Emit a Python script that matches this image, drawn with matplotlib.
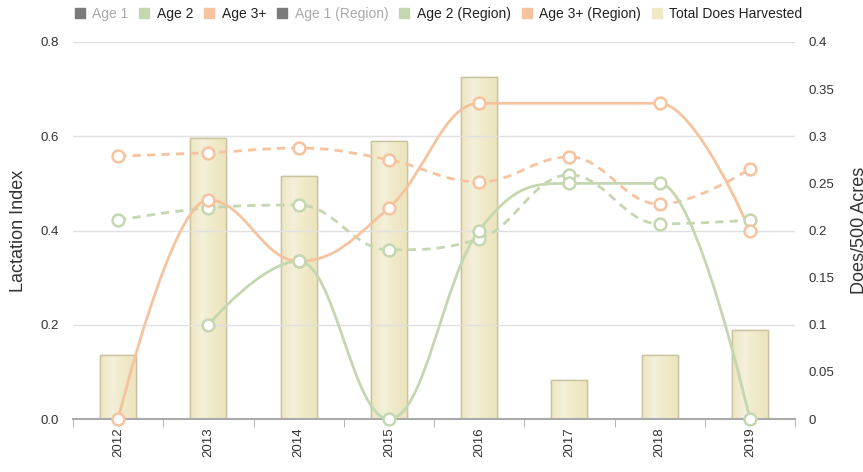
import numpy as np
import matplotlib
matplotlib.use('Agg')
import matplotlib.pyplot as plt
from matplotlib.path import Path
from matplotlib.patches import PathPatch
from matplotlib.lines import Line2D
from matplotlib.colors import LinearSegmentedColormap

plt.rcParams['font.family'] = ['Liberation Sans', 'DejaVu Sans']

years = ['2012', '2013', '2014', '2015', '2016', '2017', '2018', '2019']
does_harvested = [0.068, 0.298, 0.258, 0.295, 0.363, 0.041, 0.068, 0.094]
age2 = [None, 0.20, 0.335, 0.0, 0.40, 0.50, 0.50, 0.0]
age3 = [0.0, 0.465, 0.335, 0.448, 0.67, None, 0.67, 0.40]
age2_region = [0.422, 0.448, 0.454, 0.359, 0.382, 0.518, 0.414, 0.422]
age3_region = [0.558, 0.565, 0.575, 0.55, 0.503, 0.556, 0.456, 0.531]

GREEN = '#c4d7b0'
ORANGE = '#f5c39e'
BAR = '#efe9c6'
BAR_EDGE = '#c9c39f'


def spline_path(xs, ys, smoothing=1.5):
    # highcharts style spline through the points
    denom = smoothing + 1
    n = len(xs)
    right = [None] * n
    verts = [(xs[0], ys[0])]
    codes = [Path.MOVETO]
    for i in range(1, n):
        x, y = xs[i], ys[i]
        lx, ly = xs[i - 1], ys[i - 1]
        left_c = (x, y)
        if i < n - 1:
            nx, ny = xs[i + 1], ys[i + 1]
            lcx = (smoothing * x + lx) / denom
            lcy = (smoothing * y + ly) / denom
            rcx = (smoothing * x + nx) / denom
            rcy = (smoothing * y + ny) / denom
            corr = 0
            if rcx != lcx:
                corr = (rcy - lcy) * (rcx - x) / (rcx - lcx) + y - rcy
            lcy += corr
            rcy += corr
            if lcy > ly and lcy > y:
                lcy = max(ly, y)
                rcy = 2 * y - lcy
            elif lcy < ly and lcy < y:
                lcy = min(ly, y)
                rcy = 2 * y - lcy
            if rcy > ny and rcy > y:
                rcy = max(ny, y)
                lcy = 2 * y - rcy
            elif rcy < ny and rcy < y:
                rcy = min(ny, y)
                lcy = 2 * y - rcy
            left_c = (lcx, lcy)
            right[i] = (rcx, rcy)
        prev_c = right[i - 1] if right[i - 1] is not None else (lx, ly)
        verts += [prev_c, left_c, (x, y)]
        codes += [Path.CURVE4] * 3
    return Path(verts, codes)


def draw_series(ax, values, color, dashed):
    xs = [i for i, v in enumerate(values) if v is not None]
    ys = [v for v in values if v is not None]
    path = spline_path(xs, ys)
    ax.add_patch(PathPatch(path, fill=False, edgecolor=color, lw=2,
                           linestyle=(0, (3, 2.2)) if dashed else '-',
                           zorder=3, clip_on=False))
    ax.plot(xs, ys, 'o', ms=8.5, mfc='white', mec=color, mew=1.8,
            zorder=4, clip_on=False)


fig = plt.figure(figsize=(8.63, 4.72), dpi=100)
ax = fig.add_axes([73 / 863, 53 / 472, 722 / 863, 377 / 472])
ax2 = ax.twinx()

x = np.arange(len(years))
bars = ax2.bar(x, does_harvested, width=0.4, color=BAR, edgecolor=BAR_EDGE, lw=1, zorder=1)
grad = LinearSegmentedColormap.from_list('bar', ['#ede6c2', '#f4f0da', '#efe9c6', '#ebe4bd'])
for b in bars:
    bx, by = b.get_x(), b.get_y()
    im = ax2.imshow(np.linspace(0, 1, 64)[None, :], cmap=grad, aspect='auto',
                    extent=[bx, bx + b.get_width(), by, by + b.get_height()], zorder=1.1)
    im.set_clip_path(b)
    ax2.add_patch(plt.Rectangle((bx, by), b.get_width(), b.get_height(), fill=False,
                                edgecolor=BAR_EDGE, lw=1, zorder=1.2))
ax2.set_xlim(-0.5, len(years) - 0.5)
ax2.set_ylim(0, 0.4)
ax2.set_yticks(np.arange(0, 0.41, 0.05))
ax2.set_yticklabels(['0', '0.05', '0.1', '0.15', '0.2', '0.25', '0.3', '0.35', '0.4'])

ax.set_zorder(ax2.get_zorder() + 1)
ax.patch.set_visible(False)

draw_series(ax, age3_region, ORANGE, True)
draw_series(ax, age2_region, GREEN, True)
draw_series(ax, age3, ORANGE, False)
draw_series(ax, age2, GREEN, False)

ax.set_xlim(-0.5, len(years) - 0.5)
ax.set_ylim(0, 0.8)
ax.set_yticks([0, 0.2, 0.4, 0.6, 0.8])
ax.set_yticklabels(['0.0', '0.2', '0.4', '0.6', '0.8'])
ax.set_xticks(x)
ax.set_xticklabels(years, rotation=90)
ax.set_xticks(np.arange(-0.5, len(years)), minor=True)
ax.tick_params(axis='x', which='major', length=0, pad=6, labelsize=9.5, colors='#333333')
ax.tick_params(axis='x', which='minor', length=6, color='#aaaaaa')
ax.tick_params(axis='y', length=0, labelsize=9.5, labelcolor='#333333', pad=10)
ax2.tick_params(axis='y', length=0, labelsize=9.5, labelcolor='#333333', pad=10)
ax.grid(axis='y', color='#e0e0e0', lw=1)
ax.set_axisbelow(True)
ax2.grid(False)

for a in (ax, ax2):
    for s in a.spines.values():
        s.set_visible(False)
ax.spines['bottom'].set_visible(True)
ax.spines['bottom'].set_color('#aaaaaa')
ax.spines['bottom'].set_linewidth(1.5)

ax.set_ylabel('Lactation Index', fontsize=13, color='#333333', labelpad=10)
ax2.set_ylabel('Does/500 Acres', fontsize=13, color='#333333', labelpad=12)

# legend
labels = ['Age 1', 'Age 2', 'Age 3+', 'Age 1 (Region)', 'Age 2 (Region)',
          'Age 3+ (Region)', 'Total Does Harvested']
colors = ['#7a7a7a', GREEN, ORANGE, '#7a7a7a', GREEN, ORANGE, BAR]
handles = [Line2D([], [], ls='none', marker='s', ms=7, mfc=c, mec=c) for c in colors]
leg = fig.legend(handles, labels, loc='center', bbox_to_anchor=(0.508, 1 - 14 / 472),
                 ncol=7, frameon=False, fontsize=10, handlelength=0.8,
                 handletextpad=0.5, columnspacing=0.75)
for t, lab in zip(leg.get_texts(), labels):
    t.set_color('#aaaaaa' if lab.startswith('Age 1') else '#222222')

fig.savefig('out.png', dpi=100)
